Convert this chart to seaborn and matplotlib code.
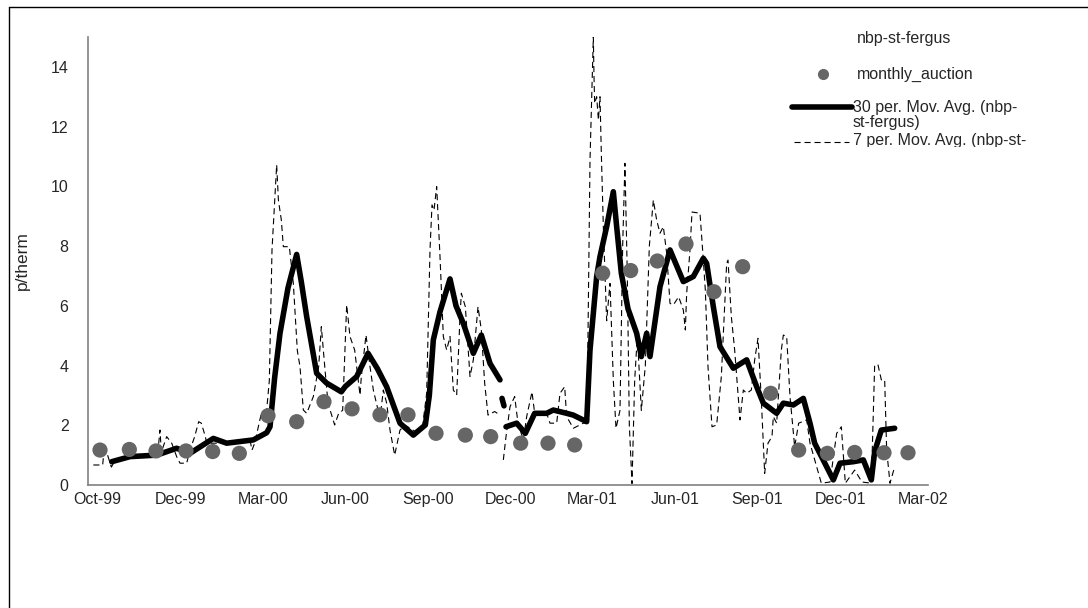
import numpy as np
import pandas as pd
import seaborn as sns
import matplotlib.pyplot as plt
from matplotlib.lines import Line2D
from matplotlib.transforms import Bbox, TransformedBbox

# x axis is a category (trading day) index, labels every ~62 days
tick_pos = [7, 69, 131, 193, 255, 317, 378, 440, 502, 564, 626]
tick_labels = ['Oct-99', 'Dec-99', 'Mar-00', 'Jun-00', 'Sep-00', 'Dec-00',
               'Mar-01', 'Jun-01', 'Sep-01', 'Dec-01', 'Mar-02']

auction_x = [9, 31, 51, 73.5, 93.5, 113.5, 135, 156.5, 177, 198, 219, 240, 261,
             283, 302, 324.5, 345, 365, 386, 407, 427, 448.5, 469.5, 491, 512,
             533, 554.5, 575, 597, 615]
auction_y = [1.17, 1.19, 1.14, 1.14, 1.12, 1.06, 2.32, 2.12, 2.79, 2.55, 2.35,
             2.35, 1.73, 1.67, 1.62, 1.40, 1.40, 1.34, 7.09, 7.18, 7.50, 8.07,
             6.47, 7.31, 3.07, 1.17, 1.06, 1.09, 1.08, 1.08]

# 30 per. moving average, three pieces
ma30_x1 = [17.8, 31.5, 51.5, 66.5, 76.5, 94, 104, 124, 134, 136.5, 140, 144, 150,
           156.5, 160, 164, 171.5, 179, 190, 193, 201.5, 210, 217, 224, 234,
           244, 253, 256, 259, 264, 271.5, 276, 281.5, 289, 295, 301.5, 309]
ma30_y1 = [0.78, 0.95, 1.0, 1.23, 1.06, 1.56, 1.40, 1.51, 1.75, 1.95, 3.6, 5.08,
           6.6, 7.72, 6.8, 5.64, 3.74, 3.41, 3.12, 3.3, 3.63, 4.41, 3.9, 3.29,
           2.07, 1.67, 2.01, 3.0, 4.86, 5.8, 6.9, 6.0, 5.41, 4.41, 5.02, 4.07,
           3.52]
ma30_x2 = [310.5, 312]
ma30_y2 = [2.9, 2.65]
ma30_x3 = [313.5, 321.5, 328, 335, 344, 349, 359, 364, 374, 376.5, 381.5, 384,
           389, 394, 396.5, 400, 405, 411.5, 415, 419, 421.5, 429, 436.5, 446.5,
           454, 461.5, 464, 469, 474, 484, 494, 501.5, 506.5, 516.5, 521.5, 529,
           536.5, 541.5, 545, 559, 564, 574, 581.5, 587.5, 590, 595, 605]
ma30_y3 = [1.95, 2.07, 1.73, 2.40, 2.40, 2.51, 2.40, 2.34, 2.12, 4.52, 6.98,
           7.65, 8.65, 9.82, 8.65, 7.09, 5.9, 5.08, 4.30, 5.08, 4.30, 6.64, 7.87,
           6.81, 6.98, 7.59, 7.42, 5.97, 4.63, 3.91, 4.19, 3.29, 2.74, 2.40, 2.74,
           2.68, 2.90, 2.07, 1.40, 0.17, 0.73, 0.78, 0.84, 0.17, 1.12, 1.84, 1.90]

# 7 per. moving average, two pieces
ma7_x1 = [4, 11, 12, 14, 17.5, 20, 31.5, 44, 52.8, 54, 55, 59, 62.8, 66.5, 69,
          74, 76.5, 80, 83, 85, 88, 89, 99, 109, 121.5, 123, 125, 130, 134, 136,
          138, 141.5, 142.8, 145, 146.5, 151, 154, 157, 159, 161.5, 164, 169,
          173, 175, 178, 180, 185, 188, 191, 194, 196.5, 200, 204, 205, 208.5,
          211.5, 214, 219, 221.5, 224, 226.5, 230, 234, 238, 245, 251, 254,
          256.5, 258, 259.5, 261.5, 264, 266.5, 269, 271.5, 274, 276.5, 279,
          280, 283, 286.5, 289, 292.5, 295, 297.5, 300, 305, 309]
ma7_y1 = [0.67, 0.67, 1.15, 1.1, 0.6, 0.8, 0.9, 0.95, 1.28, 1.84, 1.1, 1.62,
          1.40, 0.95, 0.73, 0.73, 1.17, 1.62, 2.12, 2.07, 1.62, 1.40, 1.40, 1.45,
          1.51, 1.17, 1.40, 2.40, 2.51, 3.5, 7.87, 10.72, 9.54, 8.87, 7.98, 7.98,
          6.75, 4.5, 3.96, 2.51, 2.40, 2.96, 3.96, 5.30, 3.74, 2.74, 2.01, 2.40,
          2.5, 6.03, 4.97, 4.52, 3.01, 3.63, 5.02, 3.96, 3.18, 2.23, 3.18, 2.74,
          1.84, 1.0, 1.84, 2.0, 1.8, 2.0, 3.07, 7.87, 9.38, 9.2, 9.99, 7.65,
          4.97, 4.52, 4.97, 3.18, 3.01, 5.64, 6.42, 5.97, 3.63, 4.19, 5.97,
          5.19, 3.41, 2.34, 2.46, 2.34]
ma7_x2 = [311.5, 313.5, 316.5, 320, 322.5, 326.5, 329, 333, 335, 344, 346.5,
          351.5, 354, 357.5, 359, 364, 371.5, 374, 375, 376.5, 379, 379.5, 380,
          381.5, 382.8, 384, 385, 386.5, 389, 391.5, 394, 396, 399, 401, 402.7,
          404.5, 406, 408, 410, 412, 415, 418, 421, 424, 426.5, 429, 431.5, 434,
          436.5, 439, 443, 446.5, 448, 449, 451.5, 453, 459, 461.5, 463, 465,
          468, 471.5, 475, 479, 480, 482.5, 485, 489, 491.5, 494, 497.5, 500,
          502.5, 505, 507.5, 510, 513, 514, 516.5, 520, 521.5, 524, 526.5, 530,
          533, 539, 541.5, 546.5, 550, 556.5, 561.5, 565, 568, 575, 580.5,
          587.5, 590, 592.5, 595, 597.5, 599, 601.5, 605]
ma7_y2 = [0.84, 1.62, 2.62, 2.96, 2.07, 1.51, 2.29, 3.12, 2.40, 2.40, 2.07,
          2.07, 3.07, 3.29, 2.29, 1.90, 2.07, 2.07, 5.0, 10.88, 15.0, 13.67,
          12.78, 13.0, 12.22, 13.0, 11.1, 8.65, 5.5, 6.75, 3.5, 1.9, 2.5, 8.0,
          10.77, 7.0, 2.0, 0.05, 3.5, 5.0, 2.5, 4.0, 8.0, 9.54, 8.87, 8.43, 8.65,
          7.76, 6.08, 6.03, 6.3, 5.86, 5.19, 6.42, 7.87, 9.14, 9.1, 7.53, 6.53,
          3.96, 1.95, 2.01, 3.63, 7.42, 7.53, 5.64, 4.52, 2.18, 3.18, 3.07, 3.18,
          4.19, 4.91, 2.85, 0.39, 1.40, 1.62, 2.29, 2.07, 4.52, 5.02, 4.97, 2.96,
          1.28, 2.07, 2.18, 1.40, 0.61, 0.06, 0.1, 1.73, 1.95, 0.06, 0.5, 0.1,
          0.06, 4.02, 4.02, 3.52, 3.52, 1.17, 0.06, 0.61]


def pieces(xs, ys):
    frames = [pd.DataFrame({'idx': x, 'val': y, 'seg': i})
              for i, (x, y) in enumerate(zip(xs, ys))]
    return pd.concat(frames, ignore_index=True)


ma30 = pieces([ma30_x1, ma30_x2, ma30_x3], [ma30_y1, ma30_y2, ma30_y3])
ma7 = pieces([ma7_x1, ma7_x2], [ma7_y1, ma7_y2])

sns.set_style('white')
plt.rcParams['font.family'] = ['Liberation Sans', 'DejaVu Sans']

fig = plt.figure(figsize=(10.88, 6.08), dpi=100)
ax = fig.add_axes([88 / 1088, 1 - 485 / 608, 840 / 1088, 448 / 608])

sns.lineplot(data=ma7, x='idx', y='val', units='seg', estimator=None,
             sort=False, color='black', lw=0.8, linestyle=(0, (5.5, 3.5)),
             ax=ax)
sns.lineplot(data=ma30, x='idx', y='val', units='seg', estimator=None,
             sort=False, color='black', lw=4, ax=ax)
sns.scatterplot(x=auction_x, y=auction_y, s=120, color='#666666',
                edgecolor='none', ax=ax, zorder=3)

ax.set_xlim(0, 630)
ax.set_ylim(0, 15)
ax.set_yticks(range(0, 15, 2))
ax.set_xticks(tick_pos)
ax.set_xticklabels(tick_labels)
ax.set_xlabel('')
ax.set_ylabel('p/therm', fontsize=12.5, labelpad=15)
ax.tick_params(axis='y', length=5, width=1, color='black', labelsize=11.5,
               pad=9)
ax.tick_params(axis='x', length=0, labelsize=11.5, pad=5)
for side in ['top', 'right']:
    ax.spines[side].set_visible(False)
for side in ['left', 'bottom']:
    ax.spines[side].set_color('#808080')
    ax.spines[side].set_linewidth(1.2)


# legend drawn by hand, placed as in the original sheet
def fx(px):
    return px / 1088


def fy(py):
    return 1 - py / 608


leg_fs = 11.5
fig.text(fx(857), fy(39), 'nbp-st-fergus', fontsize=leg_fs, va='center')
fig.add_artist(Line2D([fx(822.7)], [fy(74)], marker='o', ms=7,
                      color='#666666', ls='none'))
fig.text(fx(857), fy(74), 'monthly_auction', fontsize=leg_fs, va='center')
fig.add_artist(Line2D([fx(792), fx(852)], [fy(107), fy(107)], color='black',
                      lw=4))
fig.text(fx(853), fy(108), '30 per. Mov. Avg. (nbp-', fontsize=leg_fs,
         va='center')
fig.text(fx(853), fy(123), 'st-fergus)', fontsize=leg_fs, va='center')
fig.add_artist(Line2D([fx(794), fx(849)], [fy(142), fy(142)], color='black',
                      lw=0.8, ls=(0, (5.5, 3.5))))
t = fig.text(fx(853), fy(141), '7 per. Mov. Avg. (nbp-st-', fontsize=leg_fs,
             va='center')
t.set_clip_box(TransformedBbox(Bbox.from_extents(0, fy(147), 1, 1),
                               fig.transFigure))

# sheet border
fig.add_artist(Line2D([fx(9), fx(9)], [0, fy(7)], color='black', lw=1))
fig.add_artist(Line2D([fx(9), 1], [fy(7), fy(7)], color='black', lw=1))

fig.savefig('out.png', dpi=100)
